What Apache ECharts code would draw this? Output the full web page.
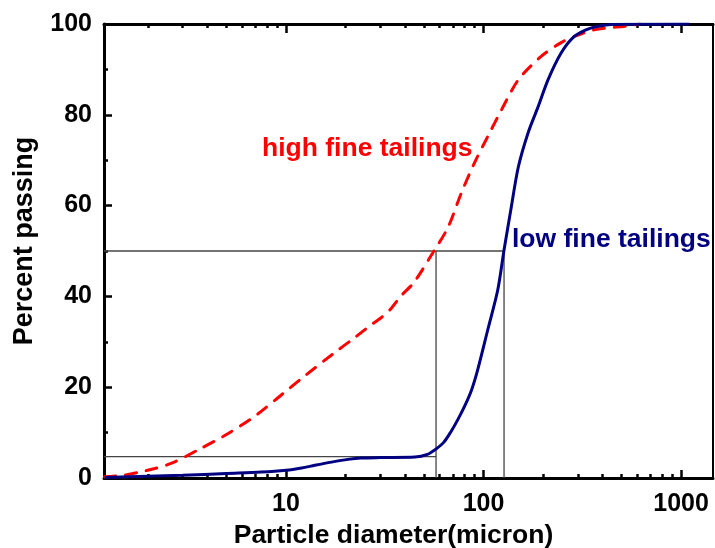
<!DOCTYPE html>
<html><head><meta charset="utf-8">
<script src="https://cdn.jsdelivr.net/npm/echarts@6/dist/echarts.min.js"></script>
<style>html,body{margin:0;padding:0;background:#fff}#c{width:715px;height:548px}</style>
</head><body><div id="c"></div>
<script>
// ---- data ----
const xMin = 1.2, xMax = 1450;
const xMajorTicks = [10, 100, 1000];
const xMinorTicks = [2,3,4,5,6,7,8,9,20,30,40,50,60,70,80,90,200,300,400,500,600,700,800,900];
const yMin = 0, yMax = 100, yStep = 20;

const diamLow = [1.21, 2, 3, 5, 7.5, 10, 12, 14, 17, 20.6, 24, 30, 45, 52, 57.5, 63, 68.4, 74, 80, 87, 93.4, 105, 118, 127, 138, 150, 168, 189, 212, 247, 287, 330, 362, 442, 1100];
const passLow = [0.1, 0.4, 0.6, 1.0, 1.3, 1.7, 2.2, 2.8, 3.5, 4.1, 4.4, 4.5, 4.6, 5.2, 6.4, 7.9, 10.2, 12.8, 15.7, 19.4, 23.8, 32.6, 41.4, 50.2, 59.5, 68.5, 76, 81.8, 87.7, 93.6, 97.2, 98.7, 99.3, 99.9, 100];

const diamHigh = [1.21, 1.5, 1.95, 2.62, 3.63, 5.1, 7.05, 9.66, 12.3, 17.5, 22.1, 26.9, 30.3, 34, 38.2, 44.5, 56.1, 66.1, 76.9, 89.5, 105, 123, 150, 195, 247, 287, 362, 540, 620];
const passHigh = [0.25, 0.6, 1.6, 3.2, 6.3, 9.8, 13.8, 18.6, 22.3, 27.5, 30.8, 33.7, 35.3, 37.3, 40.1, 43.1, 50, 55.2, 62.6, 69.2, 75.2, 81, 87.7, 92.8, 95.9, 97.2, 98.7, 99.6, 100];

// reference guide lines
const refH50 = [[xMin, 50], [127, 50]];
const refV57 = [[57.5, 0], [57.5, 50]];
const refV127 = [[127, 0], [127, 50]];
const refH5 = [[xMin, 4.7], [57.5, 4.7]];

const labelHigh = 'high fine tailings';
const labelLow = 'low fine tailings';
const xTitle = 'Particle diameter(micron)';
const yTitle = 'Percent passing';

// ---- chart ----
const font = '"Liberation Sans", Arial, Helvetica, sans-serif';
const pair = (xs, ys) => xs.map((x, i) => [x, ys[i]]);
const chart = echarts.init(document.getElementById('c'), null, {renderer: 'canvas'});

const xBase = {type: 'log', logBase: 10, min: xMin, max: xMax, gridIndex: 0, splitLine: {show: false}, minorSplitLine: {show: false}};
const majorTick = {show: true, inside: true, length: 8, lineStyle: {color: '#000', width: 2.5}, customValues: xMajorTicks};
const minorTickX = {show: true, inside: true, length: 4, lineStyle: {color: '#000', width: 2.5}, customValues: xMinorTicks};
const tickLabelStyle = {fontSize: 25, fontWeight: 'bold', color: '#000', fontFamily: font};

const refLine = (data) => ({type: 'line', data, xAxisIndex: 0, yAxisIndex: 0, symbol: 'none', silent: true, z: 1,
  lineStyle: {color: '#444', width: 1.3}});

chart.setOption({
  animation: false,
  backgroundColor: '#fff',
  grid: {left: 104, right: 2, top: 24, bottom: 70, containLabel: false, outerBoundsMode: 'none'},
  xAxis: [
    Object.assign({}, xBase, {position: 'bottom',
      axisLine: {show: true, onZero: false, lineStyle: {color: '#000', width: 3}},
      axisTick: majorTick,
      axisLabel: Object.assign({show: true, customValues: xMajorTicks, margin: 14, formatter: v => String(Math.round(v))}, tickLabelStyle),
      name: xTitle, nameLocation: 'middle', nameGap: 37,
      nameTextStyle: {fontSize: 26.5, fontWeight: 'bold', color: '#000', fontFamily: font, padding: [0, 30, 0, 0]}}),
    Object.assign({}, xBase, {position: 'bottom', axisLine: {show: false, onZero: false}, axisTick: minorTickX, axisLabel: {show: false}}),
    Object.assign({}, xBase, {position: 'top', axisLine: {show: true, onZero: false, lineStyle: {color: '#000', width: 3}},
      axisTick: Object.assign({}, majorTick, {length: 9}), axisLabel: {show: false}}),
    Object.assign({}, xBase, {position: 'top', axisLine: {show: false, onZero: false}, axisTick: minorTickX, axisLabel: {show: false}})
  ],
  yAxis: [
    {type: 'value', min: yMin, max: yMax, interval: yStep, position: 'left',
      axisLine: {show: true, onZero: false, lineStyle: {color: '#000', width: 3}},
      axisTick: {show: true, inside: true, length: 8, lineStyle: {color: '#000', width: 2.5}},
      minorTick: {show: true, splitNumber: 2, length: 4, lineStyle: {color: '#000', width: 2.5}},
      splitLine: {show: false}, minorSplitLine: {show: false},
      axisLabel: Object.assign({margin: 12}, tickLabelStyle),
      name: yTitle, nameLocation: 'middle', nameGap: 66,
      nameTextStyle: {fontSize: 27, fontWeight: 'bold', color: '#000', fontFamily: font, padding: [0, 0, 0, 20]}},
    {type: 'value', min: yMin, max: yMax, interval: yStep, position: 'right',
      axisLine: {show: true, onZero: false, lineStyle: {color: '#000', width: 2}},
      axisTick: {show: false}, axisLabel: {show: false}, splitLine: {show: false}}
  ],
  series: [
    refLine(refH50), refLine(refV57), refLine(refV127), refLine(refH5),
    {type: 'line', name: labelHigh, data: pair(diamHigh, passHigh), xAxisIndex: 0, yAxisIndex: 0,
      symbol: 'none', smooth: 0.3, z: 3,
      lineStyle: {color: '#ff0000', width: 3, type: [11, 10], cap: 'round'}},
    {type: 'line', name: labelLow, data: pair(diamLow, passLow), xAxisIndex: 0, yAxisIndex: 0,
      symbol: 'none', smooth: 0.3, z: 4,
      lineStyle: {color: '#000080', width: 3}}
  ],
  graphic: [
    {type: 'text', left: 262, top: 135, style: {text: labelHigh, fill: '#ff0000', font: 'bold 26.5px ' + font}},
    {type: 'text', left: 512, top: 226, style: {text: labelLow, fill: '#000080', font: 'bold 26.5px ' + font}}
  ]
});
</script></body></html>
